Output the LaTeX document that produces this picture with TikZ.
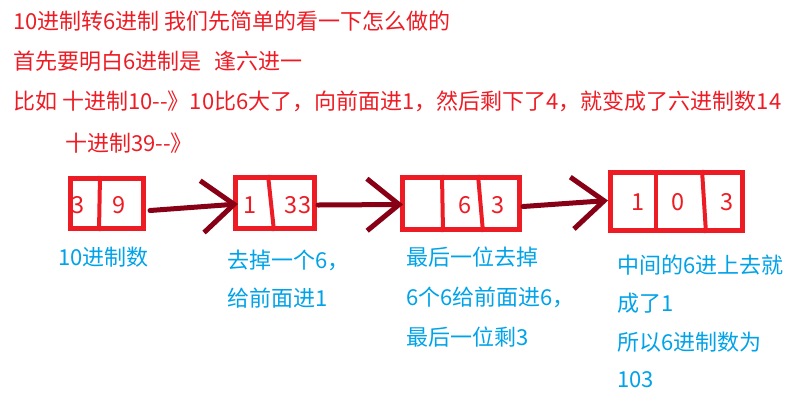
\documentclass[tikz,border=0pt]{standalone}
\usepackage{fontspec}
\setmainfont{Noto Sans CJK SC}
\usetikzlibrary{arrows.meta}

\definecolor{paintred}{HTML}{ED1C24}
\definecolor{paintblue}{HTML}{00A2E8}
\definecolor{paintdark}{HTML}{880015}

\tikzset{
  note/.style={anchor=west, inner sep=0pt, text=paintred, font=\fontsize{22}{24}\selectfont},
  remark/.style={note, text=paintblue},
  digitbox/.style={draw=paintred, line width=5pt, inner sep=0pt},
  digit/.style={inner sep=0pt, text=paintred, font=\fontsize{23.5}{26}\selectfont},
  divider/.style={paintred, line width=4pt},
  hand/.style={paintdark, line width=5pt, line cap=round,
    -{Straight Barb[length=32pt, width=52pt, line width=5pt]}}
}

\begin{document}
\begin{tikzpicture}[x=1pt, y=-1pt]
  \useasboundingbox (0,0) rectangle (794,400);

  % Heading lines
  \node[note] (l1) at (13,21) {10进制转6进制 我们先简单的看一下怎么做的};
  \node[note] (l2) at (13,61) {首先要明白6进制是\hspace{0.6em}逢六进一};
  \node[note] (l3) at (13,101) {比如 十进制10-{}-》10比6大了，向前面进1，然后剩下了4，就变成了六进制数14};
  \node[note] (l4) at (65,143) {十进制39-{}-》};

  % Boxes
  \node[digitbox, minimum width=73pt, minimum height=50pt] (b1) at (107,203.5) {};
  \node[digitbox, minimum width=79pt, minimum height=51pt] (b2) at (275,203) {};
  \node[digitbox, minimum width=117pt, minimum height=52pt] (b3) at (461,203.5) {};
  \node[digitbox, minimum width=132pt, minimum height=58pt] (b4) at (676.5,201.5) {};

  % Dividers
  \draw[divider] ([xshift=-7pt]b1.north) -- ([xshift=-8pt]b1.south);
  \draw[divider] ([xshift=-7pt]b2.north) -- ([xshift=-1pt]b2.south);
  \draw[divider] ([xshift=-19pt]b3.north) -- ([xshift=-18pt]b3.south);
  \draw[divider] ([xshift=17pt]b3.north) -- ([xshift=22pt]b3.south);
  \draw[divider] ([xshift=-20.5pt]b4.north) -- ([xshift=-20.5pt]b4.south);
  \draw[divider] ([xshift=25.5pt]b4.north) -- ([xshift=29.5pt]b4.south);

  % Digits
  \node[digit] (d11) at (78,205) {3};
  \node[digit] (d12) at (119,205) {9};
  \node[digit] (d21) at (250,205) {1};
  \node[digit] (d22) at (298,205) {33};
  \node[digit] (d32) at (465,205) {6};
  \node[digit] (d33) at (498,205) {3};
  \node[digit] (d41) at (638,202) {1};
  \node[digit] (d42) at (678,202) {0};
  \node[digit] (d43) at (727,202) {3};

  % Arrows
  \draw[hand] ([xshift=4pt, yshift=-7pt]b1.east) -- ([xshift=5pt, yshift=-1pt]b2.west);
  \draw[hand] ([xshift=1pt, yshift=-2pt]b2.east) -- ([xshift=3pt, yshift=-1pt]b3.west);
  \draw[hand] ([xshift=1pt, yshift=-3pt]b3.east) -- ([xshift=0pt, yshift=1pt]b4.west);

  % Notes under the boxes
  \node[remark] (t1) at (58,257) {10进制数};
  \node[remark] (t2) at (227,260) {去掉一个6，};
  \node[remark] (t3) at (227,298) {给前面进1};
  \node[remark] (t4) at (406,257) {最后一位去掉};
  \node[remark] (t5) at (406,297) {6个6给前面进6，};
  \node[remark] (t6) at (406,337) {最后一位剩3};
  \node[remark] (t7) at (617,265) {中间的6进上去就};
  \node[remark] (t8) at (617,303) {成了1};
  \node[remark] (t9) at (617,342) {所以6进制数为};
  \node[remark] (t10) at (617,380) {103};
\end{tikzpicture}
\end{document}
